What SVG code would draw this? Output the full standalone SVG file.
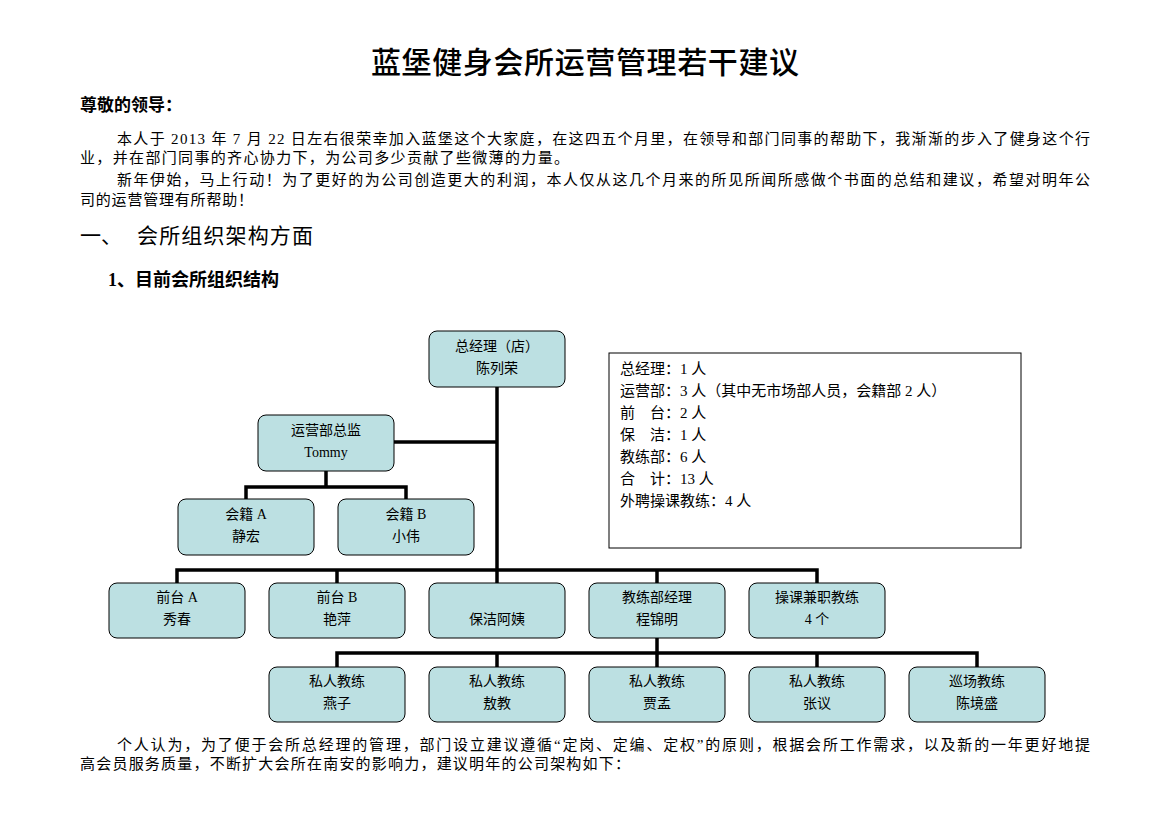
<svg xmlns="http://www.w3.org/2000/svg" width="1169" height="827" viewBox="0 0 1169 827">
<style>
text{font-family:"Liberation Serif","Noto Sans CJK SC",serif;fill:#000}
.t{font-family:"Noto Sans CJK SC",sans-serif;font-size:30px;font-weight:500}
.b{font-size:17px;font-weight:bold}
.p{font-size:15px}
.h1{font-family:"Noto Sans CJK SC",sans-serif;font-size:21px}
.h2{font-size:18px;font-weight:bold}
.n rect{fill:#bce0e2;stroke:#000;stroke-width:1}
.n text{font-size:14px;text-anchor:middle}
.c path{fill:none;stroke:#000;stroke-width:3.5}
.info{font-size:15px}
</style>
<rect width="1169" height="827" fill="#fff"/>
<text class="t" x="585" y="73" text-anchor="middle" textLength="428" lengthAdjust="spacing">蓝堡健身会所运营管理若干建议</text>
<text class="b" x="80" y="111">尊敬的领导：</text>
<text class="p" x="117" y="144" textLength="973" lengthAdjust="spacing">本人于 2013 年 7 月 22 日左右很荣幸加入蓝堡这个大家庭，在这四五个月里，在领导和部门同事的帮助下，我渐渐的步入了健身这个行</text>
<text class="p" x="80" y="163" textLength="489" lengthAdjust="spacing">业，并在部门同事的齐心协力下，为公司多少贡献了些微薄的力量。</text>
<text class="p" x="117" y="185" textLength="973" lengthAdjust="spacing">新年伊始，马上行动！为了更好的为公司创造更大的利润，本人仅从这几个月来的所见所闻所感做个书面的总结和建议，希望对明年公</text>
<text class="p" x="80" y="205" textLength="173" lengthAdjust="spacing">司的运营管理有所帮助！</text>
<text class="h1" x="80" y="243">一、</text>
<text class="h1" x="137" y="243" textLength="176" lengthAdjust="spacing">会所组织架构方面</text>
<text class="h2" x="108" y="286">1、目前会所组织结构</text>

<g class="c" id="connectors">
<path d="M497 387V583"/>
<path d="M394 442H497"/>
<path d="M326 471V487M246 499V487H406V499"/>
<path d="M177 583V570H817V583M337 570V583M657 570V583"/>
<path d="M657 638V653M337 667V653H977V667M497 653V667M817 653V667M657 653V667"/>
</g>

<g class="n" id="gm"><rect x="429" y="331" width="136" height="56" rx="8"/><text x="497" y="351">总经理（店）</text><text x="497" y="373">陈列荣</text></g>
<g class="n" id="ops"><rect x="258" y="415" width="136" height="56" rx="8"/><text x="326" y="435">运营部总监</text><text x="326" y="457">Tommy</text></g>
<g class="n" id="hjA"><rect x="178" y="499" width="136" height="56" rx="8"/><text x="246" y="519">会籍 A</text><text x="246" y="541">静宏</text></g>
<g class="n" id="hjB"><rect x="338" y="499" width="136" height="56" rx="8"/><text x="406" y="519">会籍 B</text><text x="406" y="541">小伟</text></g>

<g class="n" id="qtA"><rect x="109" y="583" width="136" height="55" rx="8"/><text x="177" y="602">前台 A</text><text x="177" y="624">秀春</text></g>
<g class="n" id="qtB"><rect x="269" y="583" width="136" height="55" rx="8"/><text x="337" y="602">前台 B</text><text x="337" y="624">艳萍</text></g>
<g class="n" id="bj"><rect x="429" y="583" width="136" height="55" rx="8"/><text x="497" y="624">保洁阿姨</text></g>
<g class="n" id="jlb"><rect x="589" y="583" width="136" height="55" rx="8"/><text x="657" y="602">教练部经理</text><text x="657" y="624">程锦明</text></g>
<g class="n" id="ck"><rect x="749" y="583" width="136" height="55" rx="8"/><text x="817" y="602">操课兼职教练</text><text x="817" y="624">4 个</text></g>

<g class="n" id="sj1"><rect x="269" y="667" width="136" height="55" rx="8"/><text x="337" y="686">私人教练</text><text x="337" y="708">燕子</text></g>
<g class="n" id="sj2"><rect x="429" y="667" width="136" height="55" rx="8"/><text x="497" y="686">私人教练</text><text x="497" y="708">敖教</text></g>
<g class="n" id="sj3"><rect x="589" y="667" width="136" height="55" rx="8"/><text x="657" y="686">私人教练</text><text x="657" y="708">贾孟</text></g>
<g class="n" id="sj4"><rect x="749" y="667" width="136" height="55" rx="8"/><text x="817" y="686">私人教练</text><text x="817" y="708">张议</text></g>
<g class="n" id="xc"><rect x="909" y="667" width="136" height="55" rx="8"/><text x="977" y="686">巡场教练</text><text x="977" y="708">陈境盛</text></g>

<g id="info">
<rect x="609" y="353" width="412" height="195" fill="#fff" stroke="#000" stroke-width="1"/>
<text class="info" x="620" y="374">总经理：1 人</text>
<text class="info" x="620" y="396">运营部：3 人（其中无市场部人员，会籍部 2 人）</text>
<text class="info" x="620" y="418">前　台：2 人</text>
<text class="info" x="620" y="440">保　洁：1 人</text>
<text class="info" x="620" y="462">教练部：6 人</text>
<text class="info" x="620" y="484">合　计：13 人</text>
<text class="info" x="620" y="506">外聘操课教练：4 人</text>
</g>

<text class="p" x="117" y="750" textLength="973" lengthAdjust="spacing">个人认为，为了便于会所总经理的管理，部门设立建议遵循“定岗、定编、定权”的原则，根据会所工作需求，以及新的一年更好地提</text>
<text class="p" x="80" y="769" textLength="550" lengthAdjust="spacing">高会员服务质量，不断扩大会所在南安的影响力，建议明年的公司架构如下：</text>
</svg>
